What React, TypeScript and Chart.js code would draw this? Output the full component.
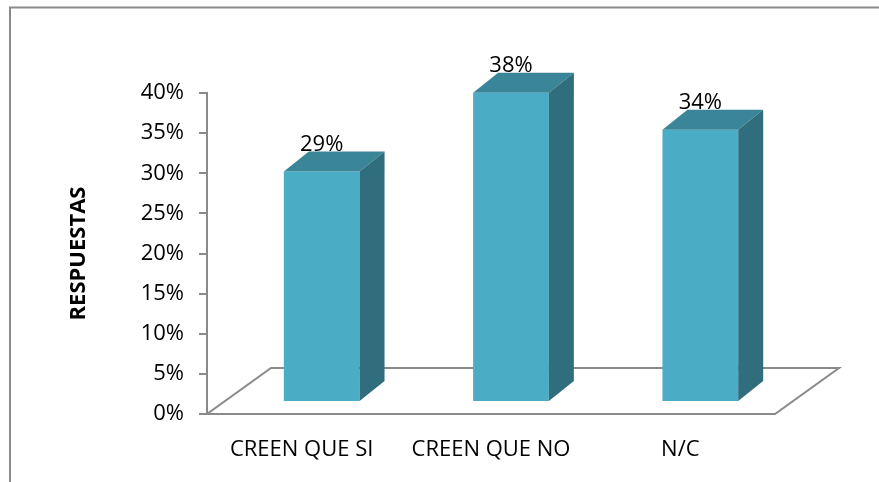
import { useEffect, useRef } from 'react';
import { Chart, registerables } from 'chart.js';

Chart.register(...registerables);

// ---- data ----
const categories: string[] = ['CREEN QUE SI', 'CREEN QUE NO', 'N/C'];
const responses: number[] = [28.6, 38.4, 33.8]; // percent
const yAxisTitle = 'RESPUESTAS';
const yMin = 0;
const yMax = 40;
const yStep = 5;

// ---- style ----
const FONT = "'Open Sans', 'Noto Sans', sans-serif";
const FRONT = '#4BACC6';
const TOP = '#3A8598';
const SIDE = '#306E7D';
const LINE = '#8a8a8a';
const BAR_SHIFT_X = 20;
const BAR_SHIFT_Y = -13;
const DEPTH_X = 25;
const DEPTH_Y = -20;
const FLOOR_DX = 64;
const FLOOR_DY = -46;

const threeD = {
  id: 'threeD',
  beforeDraw(chart: any) {
    const { ctx, width, height } = chart;
    ctx.save();
    ctx.fillStyle = '#ffffff';
    ctx.fillRect(0, 0, width, height);
    ctx.strokeStyle = LINE;
    ctx.lineWidth = 2;
    ctx.beginPath();
    ctx.moveTo(10, height + 5);
    ctx.lineTo(10, 7.5);
    ctx.lineTo(width + 5, 7.5);
    ctx.stroke();
    ctx.restore();
  },
  beforeDatasetsDraw(chart: any) {
    const { ctx, chartArea: a } = chart;
    const yb = chart.scales.y.getPixelForValue(yMin);
    ctx.save();
    ctx.strokeStyle = LINE;
    ctx.lineWidth = 2;
    ctx.beginPath();
    ctx.moveTo(a.left, yb);
    ctx.lineTo(a.right, yb);
    ctx.lineTo(a.right + FLOOR_DX, yb + FLOOR_DY);
    ctx.lineTo(a.left + FLOOR_DX, yb + FLOOR_DY);
    ctx.closePath();
    ctx.stroke();
    ctx.restore();
  },
  afterDatasetsDraw(chart: any) {
    const { ctx } = chart;
    const meta = chart.getDatasetMeta(0);
    const ys = chart.scales.y;
    const values = chart.data.datasets[0].data as number[];
    meta.data.forEach((bar: any, i: number) => {
      const v = values[i];
      const w = bar.width;
      const x0 = bar.x - w / 2 + BAR_SHIFT_X;
      const x1 = x0 + w;
      const yt = ys.getPixelForValue(v) + BAR_SHIFT_Y;
      const yb = ys.getPixelForValue(yMin) + BAR_SHIFT_Y;
      ctx.save();
      // front
      ctx.fillStyle = FRONT;
      ctx.fillRect(x0, yt, w, yb - yt);
      // top
      ctx.fillStyle = TOP;
      ctx.beginPath();
      ctx.moveTo(x0, yt);
      ctx.lineTo(x0 + DEPTH_X, yt + DEPTH_Y);
      ctx.lineTo(x1 + DEPTH_X, yt + DEPTH_Y);
      ctx.lineTo(x1, yt);
      ctx.closePath();
      ctx.fill();
      // side
      ctx.fillStyle = SIDE;
      ctx.beginPath();
      ctx.moveTo(x1, yt);
      ctx.lineTo(x1 + DEPTH_X, yt + DEPTH_Y);
      ctx.lineTo(x1 + DEPTH_X, yb + DEPTH_Y);
      ctx.lineTo(x1, yb);
      ctx.closePath();
      ctx.fill();
      // label
      ctx.fillStyle = '#000';
      ctx.font = `22px ${FONT}`;
      ctx.textAlign = 'center';
      ctx.textBaseline = 'middle';
      ctx.fillText(`${Math.round(v)}%`, (x0 + x1) / 2, yt + DEPTH_Y - 7);
      ctx.restore();
    });
  },
};

export default function App() {
  const ref = useRef<HTMLCanvasElement | null>(null);
  useEffect(() => {
    if (!ref.current) return;
    const chart = new Chart(ref.current, {
      type: 'bar',
      data: {
        labels: categories,
        datasets: [
          {
            data: responses,
            backgroundColor: 'rgba(0,0,0,0)',
            borderWidth: 0,
            barPercentage: 0.4,
            categoryPercentage: 1,
          },
        ],
      },
      options: {
        responsive: false,
        animation: false,
        events: [],
        layout: { padding: { top: 93, right: 104, bottom: 0, left: 0 } },
        plugins: { legend: { display: false }, tooltip: { enabled: false } },
        scales: {
          x: {
            grid: { display: false, drawTicks: false },
            border: { display: false },
            ticks: { color: '#000', font: { family: FONT, size: 22 }, padding: 23, maxRotation: 0 },
            afterFit: (s: any) => {
              s.height = 68;
            },
          },
          y: {
            min: yMin,
            max: yMax,
            grid: { display: true, drawOnChartArea: false, drawTicks: true, tickLength: 8, color: LINE, lineWidth: 2 },
            border: { display: true, color: LINE, width: 2 },
            ticks: {
              stepSize: yStep,
              color: '#000',
              font: { family: FONT, size: 22 },
              padding: 15,
              callback: (v: any) => `${v}%`,
            },
            title: {
              display: true,
              text: yAxisTitle,
              color: '#000',
              font: { family: FONT, size: 22, weight: 'bold' },
              padding: { top: 66, bottom: 0 },
            },
            afterFit: (s: any) => {
              s.width = 207;
            },
          },
        },
      },
      plugins: [threeD],
    });
    return () => chart.destroy();
  }, []);
  return (
    <div style={{ position: 'absolute', left: 0, top: 0, width: 879, height: 482 }}>
      <canvas ref={ref} width={879} height={482} style={{ display: 'block' }} />
    </div>
  );
}
